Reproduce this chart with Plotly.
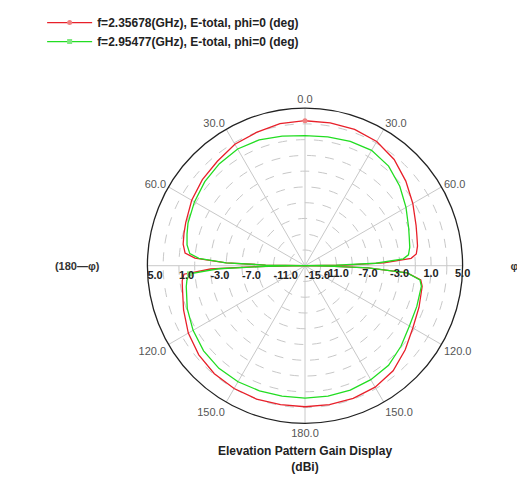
import plotly.graph_objects as go

# ---------------- data ----------------
theta_deg = [0, 10, 20, 30, 40, 50, 60, 70, 75, 80, 84, 86, 88, 89, 90,
             91, 92, 94, 97, 100, 110, 120, 130, 140, 150, 160, 170, 180,
             190, 200, 210, 220, 230, 240, 250, 260, 263, 266, 268, 269, 270,
             271, 272, 274, 276, 280, 285, 290, 300, 310, 320, 330, 340, 350, 360]

gain_f1 = [3.4, 3.4, 3.4, 3.2, 2.6, 1.7, 0.8, 0.0, -0.3, -0.5, -0.8, -1.5, -5.0, -10.0, -15.0,
           -12.0, -7.0, -2.0, -0.2, 0.1, 0.4, 0.8, 1.6, 2.4, 2.8, 2.9, 2.9, 2.9,
           2.9, 3.0, 3.0, 2.9, 2.6, 2.1, 1.4, 0.8, 0.7, 0.4, -3.0, -9.0, -15.0,
           -10.0, -5.0, -1.0, 0.3, 0.7, 0.9, 1.1, 1.6, 2.0, 2.3, 2.8, 3.0, 3.3, 3.4]

gain_f2 = [1.5, 1.6, 1.8, 1.9, 1.5, 0.7, -0.2, -1.0, -1.3, -1.5, -1.8, -2.5, -6.0, -11.0, -15.0,
           -12.0, -7.0, -2.0, -0.3, 0.0, 0.1, 0.3, 0.9, 1.5, 1.7, 1.8, 1.8, 1.8,
           1.8, 1.9, 2.0, 2.0, 1.8, 1.4, 0.9, 0.3, 0.1, -0.3, -4.0, -10.0, -15.0,
           -10.0, -5.0, -1.5, -0.3, 0.2, 0.5, 0.8, 1.2, 1.6, 1.9, 2.1, 2.0, 1.7, 1.5]

series_names = ["f=2.35678(GHz), E-total, phi=0 (deg)",
                "f=2.95477(GHz), E-total, phi=0 (deg)"]

radial_ticks = [-15, -13, -11, -9, -7, -5, -3, -1, 1, 3, 5]
radial_text_left = ["-15.0", "", "-11.0", "", "-7.0", "", "-3.0", "", "1.0", "", "5.0"]
radial_text_right = ["", "", "-11.0", "", "-7.0", "", "-3.0", "", "1.0", "", "5.0"]

angle_ticks = [0, 30, 60, 90, 120, 150, 180, 210, 240, 270, 300, 330]
angle_text = ["0.0", "30.0", "60.0", "", "120.0", "150.0", "180.0",
              "150.0", "120.0", "", "60.0", "30.0"]
side_ticks = [90, 270]
side_text = ["φ", "(180—φ)"]

# ---------------- figure ----------------
W, H = 525, 483
cx, cy, rad = 297, 250, 163
rad_side = 212


def dom(r):
    return dict(x=[(cx - r) / W, (cx + r) / W],
                y=[(H - (cy + r)) / H, (H - (cy - r)) / H])


FONT = "Liberation Sans, Arial, sans-serif"

fig = go.Figure()
fig.add_trace(go.Scatterpolar(
    r=gain_f1, theta=theta_deg, name=series_names[0], mode="lines+markers",
    line=dict(color="#e8202a", width=1.3),
    marker=dict(symbol="circle", size=5, color="#f08080", maxdisplayed=1),
    subplot="polar"))
fig.add_trace(go.Scatterpolar(
    r=gain_f2, theta=theta_deg, name=series_names[1], mode="lines+markers",
    line=dict(color="#22dd22", width=1.3),
    marker=dict(symbol="square", size=5, color="#80e880", maxdisplayed=1),
    subplot="polar"))
# empty traces hosting the mirrored radial labels and the side angle labels
fig.add_trace(go.Scatterpolar(r=[None], theta=[None], showlegend=False,
                              subplot="polar2", hoverinfo="skip"))
fig.add_trace(go.Scatterpolar(r=[None], theta=[None], showlegend=False,
                              subplot="polar3", hoverinfo="skip"))

common_angular = dict(rotation=90, direction="clockwise")

fig.update_layout(
    width=W, height=H,
    margin=dict(l=0, r=0, t=0, b=0),
    paper_bgcolor="white",
    font=dict(family=FONT),
    showlegend=True,
    legend=dict(x=0.065, y=1.034, xanchor="left", yanchor="top",
                bgcolor="rgba(0,0,0,0)", tracegroupgap=0, itemwidth=45,
                font=dict(size=12, color="#222", family=FONT, weight="bold"),
                traceorder="normal"),
    polar3=dict(
        domain=dom(rad_side),
        bgcolor="rgba(0,0,0,0)",
        angularaxis=dict(**common_angular, tickvals=side_ticks, ticktext=side_text,
                         showline=False, showgrid=False, ticks="",
                         tickfont=dict(size=11, color="#333", family=FONT, weight="bold")),
        radialaxis=dict(visible=False, range=[0, 1]),
    ),
    polar=dict(
        domain=dom(rad),
        bgcolor="white",
        angularaxis=dict(**common_angular, tickvals=angle_ticks, ticktext=angle_text,
                         showline=True, linecolor="#222", linewidth=1.3,
                         showgrid=True, gridcolor="#c8c8c8", gridwidth=1,
                         ticks="", tickfont=dict(size=11, color="#555")),
        radialaxis=dict(range=[-15, 5], tickvals=radial_ticks, ticktext=radial_text_left,
                        angle=180, tickangle=180, side="counterclockwise",
                        showline=False, ticks="",
                        showgrid=True, gridcolor="#c8c8c8", griddash="dash", gridwidth=1,
                        tickfont=dict(size=11, color="#222", family=FONT, weight="bold")),
    ),
    polar2=dict(
        domain=dom(rad),
        bgcolor="rgba(0,0,0,0)",
        angularaxis=dict(**common_angular, showline=False, showgrid=False,
                         showticklabels=False, ticks=""),
        radialaxis=dict(range=[-15, 5], tickvals=radial_ticks, ticktext=radial_text_right,
                        angle=0, tickangle=0, showline=False, ticks="", showgrid=False,
                        tickfont=dict(size=11, color="#222", family=FONT, weight="bold")),
    ),
    annotations=[dict(text="<b>Elevation Pattern Gain Display</b><br><b>(dBi)</b>",
                      x=cx / W, y=1 - 467 / H, xref="paper", yref="paper",
                      showarrow=False, font=dict(size=12, color="#222"))],
)

fig.write_html("out.html")
